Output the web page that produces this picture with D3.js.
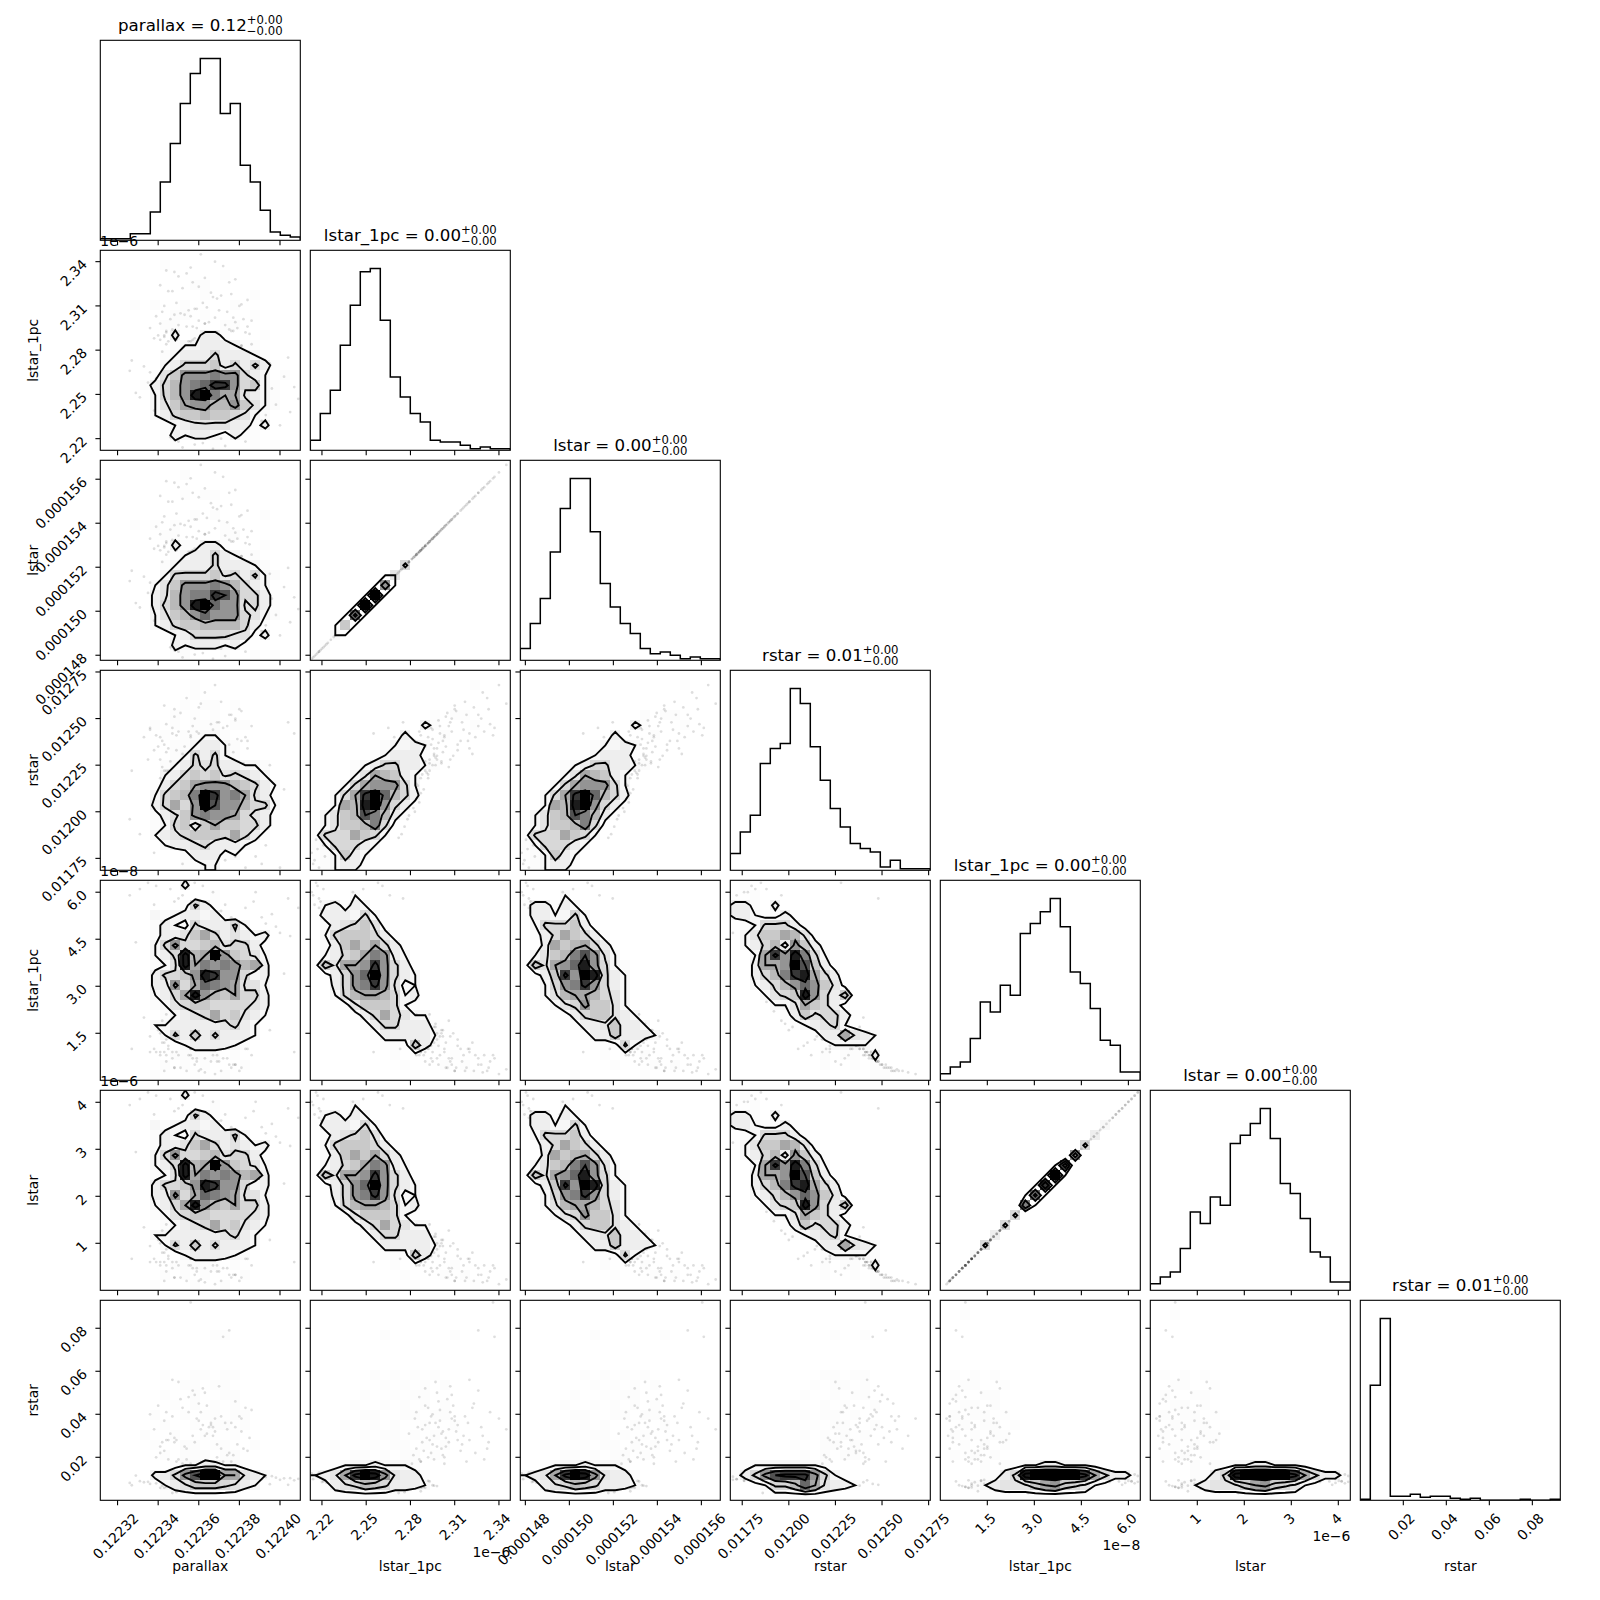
<!DOCTYPE html>
<html><head><meta charset="utf-8">
<script src="https://cdn.jsdelivr.net/npm/d3@7"></script>
<style>html,body{margin:0;background:#fff}svg{display:block}text{font-family:"DejaVu Sans";fill:#000}</style>
</head><body><svg id="c" width="1600" height="1600"></svg>
<script>
const names=["parallax","lstar_1pc","lstar","rstar","lstar_1pc","lstar","rstar"];
const titleValues=["0.12","0.00","0.00","0.01","0.00","0.00","0.01"];
const domains=[[0.1223115,0.12241],[2.2121,2.3477],[147.77,156.86],[0.011686,0.012759],[0,6.38],[0,4.255],[0,0.093]];
const tickValues=[[0.12232,0.12234,0.12236,0.12238,0.1224],[2.22,2.25,2.28,2.31,2.34],[148,150,152,154,156],[0.01175,0.012,0.01225,0.0125,0.01275],[1.5,3,4.5,6],[1,2,3,4],[0.02,0.04,0.06,0.08]];
const tickLabels=[["0.12232","0.12234","0.12236","0.12238","0.12240"],["2.22","2.25","2.28","2.31","2.34"],["0.000148","0.000150","0.000152","0.000154","0.000156"],["0.01175","0.01200","0.01225","0.01250","0.01275"],["1.5","3.0","4.5","6.0"],["1","2","3","4"],["0.02","0.04","0.06","0.08"]];
const offsets=[null,"1e\u22126",null,null,"1e\u22128","1e\u22126",null];

const histParallax=[1,1,1,4,4,17,35,58,82,100,109,109,76,82,45,35,18,5,3,2];
const histLstar1pc=[6,22,36,63,87,107,109,78,44,32,22,17,6,5,5,3,1,2,1,1];
const histLstar=[7,22,37,65,91,109,109,77,46,32,22,16,7,4,5,3,1,2,1,1];
const histRstar=[10,23,33,64,73,76,109,100,74,54,37,26,16,13,11,2,6,1,1,1];
const histLstar1pcB=[4,8,11,25,47,41,57,51,88,94,101,109,92,65,58,43,24,21,5,5];
const histLstarB=[4,8,11,25,47,40,56,51,88,93,100,109,91,64,58,43,23,20,5,5];
const histRstarB=[0.6,69,109,2.4,2.4,3.6,1.8,2.4,2.4,1.2,0.6,1.2,0,0,0,0,0.6,0,0,0.6];
const hists=[histParallax,histLstar1pc,histLstar,histRstar,histLstar1pcB,histLstarB,histRstarB];

const sampleParallax=[.122352,.122371,.122364,.122345,.122381,.122358,.122374,.12234,.122367,.122349,.122385,.122361,.122343,.122376,.122355,.122369,.122338,.122379,.122362,.122347,.122372,.122357,.122383,.122341,.122366,.12235,.122375,.12236,.122344,.122378,.122354,.122368,.122336,.122382,.122363,.122348,.122373,.122356,.122386,.122342,.122365,.122351,.122377,.122359,.122346,.12237,.122353,.12238,.122339,.122364,.122374,.122349,.122358,.122384,.122343,.122367,.122355,.122376,.122362,.122347,.122369,.122352,.122381,.122341,.122371,.122357,.122345,.122378,.12236,.12235,.122366,.122354,.122375,.122344,.122363,.122372,.122348,.122368,.122356,.122361,
.122402,.122331,.122395,.122338,.122407,.122326,.122398,.122342,.122391,.122335,.122404,.122329,.122388,.122344,.122409,.122333,.122393,.122339,.1224,.122327,.122396,.122341,.122387,.122336,.122405,.122352,.122362,.122371,.122358,.122378,.122348,.122367,.122355,.122383,.122346,.122373,.122361,.12235,.122376,.122365,.122356,.122369,.122344,.122381,.122359,.122352,.122374,.122363,.122349,.122386,.122343,.122368,.122357,.122377,.122351,.122384,.122364,.122347,.122372,.12236];
const sampleLstar1pc=[2.281,2.284,2.279,2.286,2.283,2.288,2.282,2.29,2.285,2.287,2.291,2.284,2.289,2.293,2.286,2.292,2.288,2.295,2.29,2.294,2.287,2.296,2.292,2.298,2.29,2.297,2.294,2.3,2.293,2.299,2.296,2.302,2.295,2.301,2.298,2.304,2.297,2.303,2.3,2.306,2.299,2.305,2.302,2.308,2.301,2.307,2.304,2.31,2.303,2.309,2.306,2.312,2.308,2.314,2.31,2.316,2.307,2.318,2.312,2.32,2.315,2.322,2.311,2.324,2.317,2.326,2.32,2.328,2.323,2.33,2.319,2.332,2.326,2.334,2.329,2.337,2.333,2.34,2.336,2.345,
2.262,2.248,2.271,2.239,2.255,2.266,2.243,2.279,2.232,2.258,2.275,2.251,2.241,2.284,2.247,2.269,2.236,2.261,2.229,2.273,2.254,2.287,2.244,2.265,2.238,2.214,2.217,2.22,2.216,2.222,2.219,2.213,2.224,2.218,2.221,2.215,2.226,2.218,2.223,2.228,2.286,2.289,2.292,2.283,2.295,2.278,2.281,2.298,2.276,2.284,2.29,2.274,2.287,2.293,2.279,2.296,2.282,2.272,2.288,2.285];
const sampleLstar=[152.37,152.57,152.24,152.7,152.5,152.84,152.44,152.97,152.64,152.77,153.04,152.57,152.9,153.17,152.7,153.1,152.84,153.3,152.97,153.24,152.77,153.37,153.1,153.5,152.97,153.44,153.24,153.64,153.17,153.57,153.37,153.77,153.3,153.71,153.5,153.91,153.44,153.84,153.64,154.04,153.57,153.97,153.77,154.17,153.71,154.11,153.91,154.31,153.84,154.24,154.04,154.44,154.17,154.57,154.31,154.71,154.11,154.84,154.44,154.98,154.64,155.11,154.37,155.24,154.78,155.38,154.98,155.51,155.18,155.64,154.91,155.78,155.38,155.91,155.58,156.11,155.84,156.31,156.04,156.65,
151.1,150.17,151.7,149.57,150.63,151.37,149.83,152.24,149.1,150.83,151.97,150.37,149.7,152.57,150.1,151.57,149.36,151.03,148.9,151.84,150.57,152.77,149.9,151.3,149.5,147.9,148.1,148.3,148.03,148.43,148.23,147.83,148.56,148.16,148.36,147.96,148.7,148.16,148.5,148.83,152.7,152.9,153.1,152.5,153.3,152.17,152.37,153.5,152.04,152.57,152.97,151.9,152.77,153.17,152.24,153.37,152.44,151.77,152.84,152.64];
const sampleRstar=[.01218,.01232,.01225,.01222,.01238,.01228,.01219,.01235,.01224,.01241,.01221,.01229,.01236,.01226,.01243,.0122,.01233,.01239,.01227,.01245,.01223,.01231,.0124,.01228,.01247,.01225,.01236,.01242,.01222,.01249,.0123,.01238,.01244,.01226,.01234,.01251,.01229,.0124,.01246,.01224,.01237,.01253,.01232,.01243,.01227,.01248,.01235,.01255,.01241,.0123,.01246,.01233,.0125,.01238,.01257,.01244,.01228,.01252,.01236,.01242,.01248,.01231,.01254,.0124,.01259,.01246,.01234,.0125,.01256,.01243,.01238,.01261,.01252,.01247,.01264,.01245,.01255,.01268,.01241,.01258,
.01212,.01188,.01225,.01178,.01242,.01196,.01168,.01238,.01172,.01228,.01248,.0116,.01176,.01232,.01158,.0124,.01182,.01162,.0117,.01222,.01154,.01218,.01164,.01245,.01165,.01172,.0118,.01168,.01185,.01176,.01164,.01178,.0119,.0117,.01182,.01174,.01192,.01166,.01186,.01188,.01205,.01212,.01218,.012,.01225,.01196,.01208,.0123,.01192,.01215,.01222,.01188,.0121,.01228,.01198,.01234,.01202,.01186,.0122,.01214];
const sampleLstar1pcB=[1.9,1.4,2.2,1.1,1.7,2,1.3,1.6,1.9,.9,1.5,2.1,1.2,1.8,.8,1.6,1,1.4,1.9,.7,1.3,1.7,1,1.5,.6,1.8,1.1,1.4,2.1,.5,1.2,1.6,.9,1.5,1.3,.4,1.7,1,.8,1.9,1.1,.4,1.4,.7,1.6,.6,1.2,.3,.9,1.5,.7,1.3,.5,1,.3,.8,1.4,.4,1.1,.9,.6,1.2,.4,.8,.3,.7,1,.5,.3,.8,1,.3,.5,.6,.25,.7,.4,.2,.8,.35,
3.4,6.1,1.6,5.6,.9,5.9,4.9,1.2,5.2,6.3,5.8,4.4,6,.8,5.5,2,5,6.2,4.7,1,5.3,.9,5.7,1.4,4.6,5.9,6.2,5.4,6.3,5.1,5.7,6,4.8,5.5,6.1,5.6,4.5,5.8,5.2,4.9,1,.8,1.3,1.6,.6,1.9,1.1,.7,2.2,1.4,.9,2.5,1.2,.5,1.8,1.5,1.7,2.8,1,1.3];
const sampleLstarB=[1.27,.94,1.47,.73,1.14,1.34,.87,1.07,1.27,.6,1,1.4,.8,1.2,.53,1.07,.67,.94,1.27,.47,.87,1.14,.67,1,.4,1.2,.73,.94,1.4,.33,.8,1.07,.6,1,.87,.27,1.14,.67,.53,1.27,.73,.27,.94,.47,1.07,.4,.8,.2,.6,1,.47,.87,.33,.67,.2,.53,.94,.27,.73,.6,.4,.8,.27,.53,.2,.47,.67,.33,.2,.53,.67,.2,.33,.4,.17,.47,.27,.13,.53,.23,
2.27,4.07,1.07,3.74,.6,3.94,3.27,.8,3.47,4.21,3.87,2.94,4.01,.53,3.67,1.34,3.34,4.14,3.14,.67,3.54,.6,3.81,.94,3.07,3.94,4.14,3.61,4.21,3.41,3.81,4.01,3.21,3.67,4.07,3.74,3.01,3.87,3.47,3.27,.67,.53,.87,1.07,.4,1.27,.73,.47,1.47,.94,.6,1.67,.8,.33,1.2,1,1.14,1.87,.67,.87];
const sampleRstarB=[.017,.024,.031,.019,.038,.027,.021,.044,.034,.018,.029,.041,.023,.036,.048,.02,.033,.026,.052,.039,.018,.03,.043,.025,.035,.055,.022,.037,.028,.046,.019,.032,.04,.024,.05,.029,.036,.017,.042,.027,.034,.047,.021,.038,.031,.053,.025,.039,.02,.044,.033,.028,.049,.023,.037,.03,.041,.018,.035,.056,.026,.043,.032,.022,.039,.051,.028,.034,.045,.019,.036,.024,.079,.041,.03,.076,.027,.038,.092,.033,
.0102,.0089,.0075,.011,.0093,.0081,.0105,.0068,.0098,.0086,.0072,.0115,.009,.0062,.01,.0084,.0108,.0079,.0095,.007,.0112,.0058,.0088,.0076,.0103,.0098,.012,.0085,.0113,.0092,.0105,.0125,.0096,.011,.0088,.0118,.0094,.0128,.0082,.0107,.0078,.0062,.009,.0055,.007,.0048,.0084,.0066,.0038,.0095,.0058,.0074,.0042,.0088,.0052,.0068,.008,.0034,.006,.0092];
const samples=[sampleParallax,sampleLstar1pc,sampleLstar,sampleRstar,sampleLstar1pcB,sampleLstarB,sampleRstarB];

const z="00000 00000 00000 00000";
const g10=[z,"00000 01000 00000 00000","00000 00000 00100 00000","00000 00001 10000 00000","00000 00000 10000 10000","00010 10010 00010 00000","00000 00110 10000 10000","00000 01100 00110 00000","00000 00301 33100 01000","00000 00122 33321 10000","00000 01233 35333 21000","00000 02355 56353 53100","00000 14699 9a995 32010","00001 3579a bdd95 62100","00000 2579e fa884 32100","00000 24689 97796 42100","00000 23566 76654 21000","00000 01234 44433 13000","00000 01323 32131 10000","00000 00100 01000 10100"];
const g20=[z,"00000 00010 00000 00000",z,"00000 00010 11000 00000",z,"00000 00001 01000 01000","00010 10100 00100 00000","00000 01100 00110 00000","00000 00311 33100 01000","00000 00123 35321 10000","00000 01233 35333 21000","00000 02555 56453 52100","00000 24699 9a975 32000","00000 3479a adc95 53100","00000 3579e fb994 53100","00000 24679 b9995 42100","00000 23566 77775 31000","00000 01235 55544 13000","00000 00323 33231 00000","00000 00110 00100 10100"];
const g21=[z,z,z,z,z,z,z,z,"00000 00000 01000 00000","00000 00000 10000 00000","00000 00005 00000 00000","00000 00040 00000 00000","00000 00900 00000 00000","00000 0f000 00000 00000","00000 f0000 00000 00000","0000b 00000 00000 00000","00060 00000 00000 00000","00200 00000 00000 00000","01000 00000 00000 00000","10000 00000 00000 00000"];
const g21Lens=[z,z,z,z,z,z,z,z,z,z,"00000 00005 00000 00000","00000 00440 00000 00000","00000 04940 00000 00000","00000 4f400 00000 00000","00004 f4000 00000 00000","0004b 40000 00000 00000","00464 00000 00000 00000","00440 00000 00000 00000",z,z];
const g30=[z,"00000 00001 00000 00000","00000 00001 00000 00000","00000 00010 11010 00000","00000 00101 01000 00000","00000 10101 11011 00000","00000 01011 22100 00000","00000 00112 33210 00000","00000 00125 35210 00000","00000 01235 45332 21000","00000 02356 56454 32000","00000 13568 99976 53200","00000 2567a fd9a8 43100","00000 35859 fc997 55200","00000 13469 a9985 43100","00000 12563 68665 53100","00000 23456 66585 31000","00000 02334 53332 10000","00000 00013 33120 00000","00000 00011 22000 00000"];
const g31=[z,"00000 00000 00000 01000",z,z,"00000 00000 00101 10000","00000 00000 03100 01000","00000 00003 00010 00000","00000 00122 32000 00000","00000 01233 31000 00000","00001 23553 32100 00000","00002 48763 20000 00000","00025 89995 20000 00000","00258 dfb75 30000 00000","00287 ef953 10000 00000","02467 ca731 00000 00000","12466 7a510 00000 00000","15558 65200 00000 00000","12555 32000 00000 00000","01263 20000 00000 00000","01233 10000 00000 00000"];
const g40=["00000 00030 00000 00000","00000 00000 01000 00000","00000 00015 31000 00000","00000 21233 23100 00000","00000 13215 33352 00000","00000 13346 85343 23000","00000 25955 67455 31000","00000 235e7 8f965 42000","00000 124e8 a9a97 83000","00000 35569 ed995 23000","00000 33958 ba984 42000","00000 2358e 97685 53000","00000 12456 65555 43000","00000 01234 58564 32000","00000 22333 33453 20000","00000 02536 35333 20000","00000 00023 33321 00000","00000 00111 11010 00000","00000 01010 10001 00000","00000 10001 00100 00000"];
const g41=[z,"00002 00000 00000 00000","02313 20000 00000 00000","13332 52000 00000 00000","01345 64100 00000 00000","02566 65310 00000 00000","01368 68531 00000 00000","02356 8a932 00000 00000","16488 9d953 10000 00000","01359 bf953 20000 00000","00359 ad941 20000 00000","00257 88752 30000 00000","00014 66652 10000 00000","00001 35854 22000 00000","00000 13553 33100 00000","00000 01333 33200 00000","00000 00111 63100 00000","00000 00010 10001 00000","00000 00001 00010 10000","00000 00000 10000 01000"];
const g42=["00000 00010 00000 00000","00002 00000 00000 00000","13313 20000 00000 00000","13322 52000 00000 00000","02555 63100 00000 00000","01358 65310 00000 00000","00386 78531 00000 00000","02467 ac942 00000 00000","16489 be952 10000 00000","0136d 9fe53 20000 00000","00259 ad953 20000 00000","00247 88754 20000 00000","00024 59664 20000 00000","00001 35664 32000 00000","00000 13346 33200 00000","00000 01336 33320 00000","00000 00111 52000 00000","00000 00010 10100 00000","00000 00001 00010 10000","00000 10000 00100 00000"];
const g43=["01000 00000 00000 00000","00100 00000 00000 00000","33103 00000 00000 00000","33211 31000 00000 00000","01255 53100 00000 00000","02466 87410 00000 00000","02357 39631 00000 00000","0028d 9ea52 00000 00000","00388 9fc63 10000 00000","00357 ade85 30000 00000","00235 79b96 41000 00000","00024 56e95 36000 00000","00002 24865 31000 00000","00000 13645 53100 00000","00000 01234 52100 00000","00000 00013 38432 00000","00000 00001 22221 00000","00000 00001 01103 00000","00000 00001 00101 00000","00000 00000 00001 10000"];
const g54=[z,"00000 00000 00000 00010","00000 00000 00000 00100","00000 00000 00000 02000","00000 00000 00000 30000","00000 00000 00005 00000","00000 00000 00090 00000","00000 00000 00c00 00000","00000 00000 0f000 00000","00000 00000 d0000 00000","00000 0000b 00000 00000","00000 000a0 00000 00000","00000 00500 00000 00000","00000 05000 00000 00000","00000 30000 00000 00000","00005 00000 00000 00000","00020 00000 00000 00000","00100 00000 00000 00000",z,z];
const g54Lens=[z,z,z,z,z,"00000 00000 00005 00000","00000 00000 00090 00000","00000 00000 04c00 00000","00000 00000 4f400 00000","00000 00004 d4000 00000","00000 0004b 40000 00000","00000 000a4 00000 00000","00000 00500 00000 00000","00000 05000 00000 00000",z,"00005 00000 00000 00000",z,z,z,z];
const g60=[z,z,z,"00000 00000 01100 00000",z,z,z,"00000 01001 10110 00000","00000 00011 01100 00000","00000 01001 00110 00000","00000 00101 01010 00000","00000 10010 11011 00000","00000 01001 01101 00000","00001 00100 10010 00000","00000 10011 01100 10000","00000 01011 10110 00000","00000 00122 33221 00000","00000 3359c ff884 32000","00000 02346 66543 20000","00000 01111 11110 00000"];
const g61=[z,z,z,"00000 00100 00001 00000",z,z,z,"00000 01010 10100 00000","00000 00101 01010 00000","00000 10010 11000 00000","00001 00101 01010 00000","00000 11001 10110 00000","00010 01010 01001 00000","00000 10110 10100 00000","00100 01011 01010 00000","00001 10101 10100 00000","00122 23222 10000 00000","2348d fe943 31000 00000","01345 76533 32000 00000","00111 11111 00000 00000"];
const g63=[z,z,z,"00000 00000 10010 00000",z,z,z,"00000 00001 10110 00000","00000 00010 11010 00000","00000 00100 10110 00000","00000 01001 01001 00000","00000 00101 10100 00000","00000 01010 11001 00000","00000 00101 01010 00000","00000 01001 10100 00000","00000 00101 01100 00000","01222 22221 00000 00000","1359c ddd95 21000 00000","00125 57b84 33200 00000","00001 11111 10000 00000"];
const g64=[z,"00100 00000 00000 00000",z,z,z,z,z,"01010 10000 00000 00000","00110 01000 00000 00000","01001 10000 00000 00000","00110 10000 00000 00000","01011 01000 00000 00000","00101 10100 00000 00000","01010 11000 00000 00000","00101 01000 00000 00000","01010 10000 00000 00000","00001 01122 33222 10000","00001 135ef ffffd 85331","00012 34446 89654 21000","00001 11111 11111 00000"];
const grids={"1,0":g10,"2,0":g20,"2,1":g21,"3,0":g30,"3,1":g31,"3,2":g31,"4,0":g40,"4,1":g41,"4,2":g42,"4,3":g43,"5,0":g40,"5,1":g41,"5,2":g42,"5,3":g43,"5,4":g54,"6,0":g60,"6,1":g61,"6,2":g61,"6,3":g63,"6,4":g64,"6,5":g64};
const lensGrids={"2,1":g21Lens,"5,4":g54Lens};
const contourLevels=[2,4.5,8,12];
const diagLevels=[4,7,10,13];

const svg=d3.select("#c");
const size=200,step=210,x0=100.3,y0=40.3,bins=20,FS=13.9;
const uid=(r,c)=>"p"+r+"_"+c;
const defs=svg.append("defs");
const parseGrid=g=>g.join("").replace(/ /g,"").split("").map(ch=>parseInt(ch,16));
function styleTicks(ax){ax.select(".domain").remove();ax.selectAll("line").attr("stroke","#000").attr("stroke-width",1.1);ax.selectAll("text").attr("fill","#000").style("font-size",FS+"px").style("font-family","DejaVu Sans");}
function xAxis(p,c,scale,label){
  const ax=p.append("g").attr("transform",`translate(0,${size})`).call(d3.axisBottom(scale).offset(0).tickValues(tickValues[c]).tickSize(4.9).tickFormat((d,i)=>label?tickLabels[c][i]:""));
  styleTicks(ax);
  if(label)ax.selectAll("text").each(function(){const t=d3.select(this),w=this.getComputedTextLength(),e=(w+7)*Math.SQRT1_2;
    t.attr("x",0).attr("y",0).attr("dy","0.365em").attr("text-anchor","middle").attr("transform",`translate(-2,${13+e/2}) rotate(-45)`);});
}
function yAxis(p,r,scale,label){
  const ax=p.append("g").call(d3.axisLeft(scale).offset(0).tickValues(tickValues[r]).tickSize(4.9).tickFormat((d,i)=>label?tickLabels[r][i]:""));
  styleTicks(ax);
  if(label)ax.selectAll("text").each(function(){const t=d3.select(this),w=this.getComputedTextLength(),e=(w+7)*Math.SQRT1_2;
    t.attr("x",0).attr("y",0).attr("dy","0.365em").attr("text-anchor","middle").attr("transform",`translate(${-13.3-e/2},${e/2-2.4}) rotate(-45)`);});
}
for(let r=0;r<7;r++)for(let c=0;c<=r;c++){
  const p=svg.append("g").attr("transform",`translate(${x0+c*step},${y0+r*step})`);
  const x=d3.scaleLinear().domain(domains[c]).range([0,size]);
  defs.append("clipPath").attr("id",uid(r,c)).append("rect").attr("width",size).attr("height",size);
  const body=p.append("g").attr("clip-path",`url(#${uid(r,c)})`);
  if(r===c){
    const y=d3.scaleLinear().domain([0,d3.max(hists[c])*1.1]).range([size,0]);
    const edge=i=>domains[c][0]+(domains[c][1]-domains[c][0])*i/bins;
    const pts=[[edge(0),0]];
    hists[c].forEach((v,i)=>{pts.push([edge(i),v]);pts.push([edge(i+1),v]);});
    pts.push([edge(bins),0]);
    body.append("path").attr("d",d3.line().x(d=>x(d[0])).y(d=>y(d[1]))(pts)).attr("fill","none").attr("stroke","#000").attr("stroke-width",1.5);
    const sup=p.append("g").attr("class","title");
    const t=sup.append("text").attr("y",-9.3).style("font-size","16.67px").text(`${names[c]} = ${titleValues[c]}`);
    const w=t.node().getComputedTextLength();
    const s1=sup.append("text").attr("x",w).attr("y",-16.3).style("font-size","11.67px").text("+0.00");
    const s2=sup.append("text").attr("x",w).attr("y",-5.6).style("font-size","11.67px").text("\u22120.00");
    const tw=w+Math.max(s1.node().getComputedTextLength(),s2.node().getComputedTextLength());
    sup.attr("transform",`translate(${size/2-tw/2},0)`);
  }else{
    const y=d3.scaleLinear().domain(domains[r]).range([size,0]);
    body.append("g").selectAll("circle").data(d3.range(samples[0].length)).join("circle")
      .attr("cx",i=>x(samples[c][i])).attr("cy",i=>y(samples[r][i])).attr("r",1.4).attr("fill","#000").attr("opacity",0.13);
    const key=r+","+c;
    const vals=parseGrid(grids[key]);
    const lineVals=lensGrids[key]?parseGrid(lensGrids[key]):vals;
    const levels=lensGrids[key]?diagLevels:contourLevels;
    const gx=i=>domains[c][0]+(domains[c][1]-domains[c][0])*i/bins;
    const gy=j=>domains[r][1]-(domains[r][1]-domains[r][0])*j/bins;
    const cs=d3.contours().size([bins,bins]).smooth(true).thresholds(levels)(lineVals);
    const path=d3.geoPath(d3.geoTransform({point(a,b){this.stream.point(x(gx(a)),y(gy(b)));}}));
    body.append("path").attr("d",path(cs[0])).attr("fill","#fff");
    body.append("g").attr("shape-rendering","crispEdges").selectAll("rect").data(vals.map((v,i)=>({v,i})).filter(d=>d.v>0)).join("rect")
      .attr("x",d=>x(gx(d.i%bins))).attr("y",d=>y(gy(Math.floor(d.i/bins))))
      .attr("width",x(gx(1))-x(gx(0))).attr("height",y(gy(1))-y(gy(0)))
      .attr("fill","#000").attr("opacity",d=>d.v===1?0.012:Math.pow(d.v/15,1.7));
    body.append("g").selectAll("path").data(cs).join("path").attr("d",path).attr("fill","none").attr("stroke","#000").attr("stroke-width",1.9).attr("stroke-linejoin","miter");
    yAxis(p,r,y,c===0);
    if(c===0){
      p.append("text").attr("transform",`translate(${37.7-x0},${size/2}) rotate(-90)`).attr("text-anchor","middle").style("font-size",FS+"px").text(names[r]);
      if(offsets[r])p.append("text").attr("x",0).attr("y",-4.3).style("font-size",FS+"px").text(offsets[r]);
    }
  }
  xAxis(p,c,x,r===6);
  p.append("rect").attr("width",size).attr("height",size).attr("fill","none").attr("stroke","#000").attr("stroke-width",1.1);
  if(r===6){
    p.append("text").attr("x",size/2).attr("y",271).attr("text-anchor","middle").style("font-size",FS+"px").text(names[c]);
    const off={1:57,4:49.5,5:41}[c];
    if(off)p.append("text").attr("x",size).attr("y",size+off).attr("text-anchor","end").style("font-size",FS+"px").text(offsets[c]);
  }
}
</script></body></html>
